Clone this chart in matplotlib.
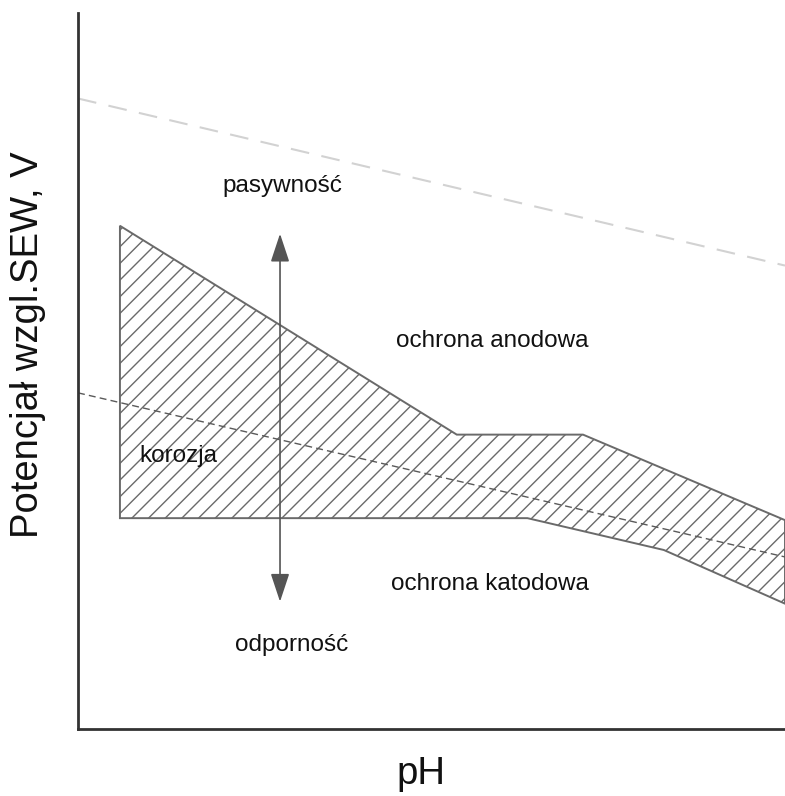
import matplotlib.pyplot as plt
from matplotlib.patches import Polygon

plt.rcParams['font.family'] = ['Liberation Sans', 'DejaVu Sans']
plt.rcParams['hatch.color'] = '#9a9a9a'
plt.rcParams['hatch.linewidth'] = 1.0

# corrosion region outline (pH, potential)
region_ph = [0.83, 7.5, 10.0, 14.0, 14.0, 11.6, 8.9, 0.83]
region_v = [0.63, -0.42, -0.42, -0.85, -1.27, -1.0, -0.84, -0.84]

# water stability lines
o2_ph = [0, 14]
o2_v = [1.27, 0.43]
h2_ph = [0, 14]
h2_v = [-0.21, -1.035]

# double arrow
arrow_ph = 4.0
arrow_v = (0.59, -1.26)

labels = ['pasywność', 'ochrona anodowa', 'korozja', 'ochrona katodowa', 'odporność']
label_ph = [4.05, 8.2, 1.98, 8.16, 4.22]
label_v = [0.83, 0.05, -0.53, -1.17, -1.48]

fig = plt.figure(figsize=(7.85, 7.96), dpi=100)
ax = fig.add_axes([0.0994, 0.0842, 0.9006, 0.8995])
ax.set_xlim(0, 14)
ax.set_ylim(-1.9, 1.7)

poly = Polygon(list(zip(region_ph, region_v)), closed=True, facecolor='white',
               edgecolor='#6a6a6a', linewidth=1.4, hatch='//')
ax.add_patch(poly)

ax.plot(o2_ph, o2_v, color='#d2d2d2', linewidth=1.5, dashes=(9, 6))
ax.plot(h2_ph, h2_v, color='#5a5a5a', linewidth=1.0, dashes=(5, 3))

ax.annotate('', xy=(arrow_ph, arrow_v[0]), xytext=(arrow_ph, arrow_v[1]),
            arrowprops=dict(arrowstyle='<|-|>,head_length=1.75,head_width=0.58',
                            mutation_scale=10, color='#555555', lw=1.2,
                            shrinkA=0, shrinkB=0))

for txt, x, y in zip(labels, label_ph, label_v):
    ax.text(x, y, txt, ha='center', va='center', fontsize=17.5, color='#111111')

for s in ['top', 'right']:
    ax.spines[s].set_visible(False)
for s in ['left', 'bottom']:
    ax.spines[s].set_color('#333333')
    ax.spines[s].set_linewidth(2)
ax.set_xticks([])
ax.set_yticks([])

fig.text(28 / 785, 1 - 345 / 796, 'Potencjał wzgl.SEW, V', rotation=90,
         ha='center', va='center', fontsize=27.5, color='#111111')
fig.text(421 / 785, 1 - 774 / 796, 'pH', ha='center', va='center',
         fontsize=27.5, color='#111111')

fig.savefig('out.png', dpi=100)
